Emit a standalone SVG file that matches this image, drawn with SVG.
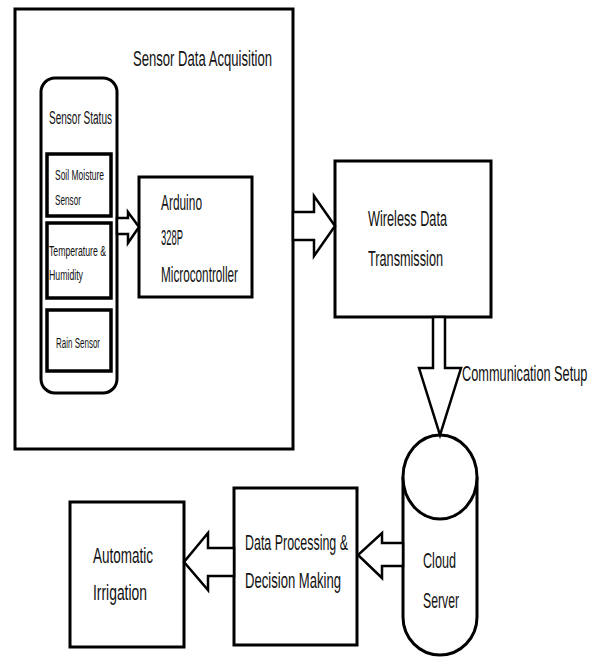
<svg xmlns="http://www.w3.org/2000/svg" width="600" height="657" viewBox="0 0 600 657">
<style>
.box{fill:#fff;stroke:#000;stroke-width:3}
.sbox{fill:#fff;stroke:#000;stroke-width:3.5}
.arr{fill:#fff;stroke:#000;stroke-width:2.5;stroke-linejoin:miter}
text{font-family:"Liberation Sans",Arial,sans-serif;fill:#111}
.big{font-size:22px}
.mid{font-size:18px}
.sm{font-size:14px}
</style>
<rect width="600" height="657" fill="#fff"/>
<g id="sensor-data-acquisition">
<rect class="box" x="15" y="9" width="278" height="440"/>
<text class="big" x="133" y="66" textLength="139" lengthAdjust="spacingAndGlyphs">Sensor Data Acquisition</text>
</g>
<g id="sensor-status">
<rect class="box" x="41" y="78" width="76" height="315" rx="14" ry="14"/>
<text class="mid" x="49" y="124" textLength="63" lengthAdjust="spacingAndGlyphs">Sensor Status</text>
</g>
<g id="soil-moisture">
<rect class="sbox" x="47" y="154" width="64" height="62"/>
<text class="sm" x="55" y="180" textLength="49" lengthAdjust="spacingAndGlyphs">Soil Moisture</text>
<text class="sm" x="55" y="205" textLength="26" lengthAdjust="spacingAndGlyphs">Sensor</text>
</g>
<g id="temperature-humidity">
<rect class="sbox" x="47" y="223" width="64" height="75"/>
<text class="sm" x="49" y="256" textLength="57" lengthAdjust="spacingAndGlyphs">Temperature &amp;</text>
<text class="sm" x="49" y="280" textLength="34" lengthAdjust="spacingAndGlyphs">Humidity</text>
</g>
<g id="rain-sensor">
<rect class="sbox" x="47" y="310" width="64" height="61"/>
<text class="sm" x="56" y="348" textLength="44" lengthAdjust="spacingAndGlyphs">Rain Sensor</text>
</g>
<g id="arduino">
<rect class="box" x="139" y="177" width="113" height="120"/>
<text class="big" x="161" y="210" textLength="41" lengthAdjust="spacingAndGlyphs">Arduino</text>
<text class="big" x="161" y="245" textLength="22" lengthAdjust="spacingAndGlyphs">328P</text>
<text class="big" x="161" y="282" textLength="77" lengthAdjust="spacingAndGlyphs">Microcontroller</text>
</g>
<g id="wireless">
<rect class="box" x="335" y="161" width="156" height="156"/>
<text class="big" x="368" y="226" textLength="79" lengthAdjust="spacingAndGlyphs">Wireless Data</text>
<text class="big" x="368" y="266" textLength="75" lengthAdjust="spacingAndGlyphs">Transmission</text>
</g>
<g id="cloud-server">
<path class="box" d="M403,477 L403,617 A37,38 0 0 0 477,617 L477,477"/>
<ellipse class="box" cx="440" cy="477" rx="37" ry="42"/>
<text class="big" x="423" y="568" textLength="33" lengthAdjust="spacingAndGlyphs">Cloud</text>
<text class="big" x="423" y="608" textLength="36" lengthAdjust="spacingAndGlyphs">Server</text>
</g>
<g id="data-processing">
<rect class="box" x="234" y="488" width="123" height="157"/>
<text class="big" x="245" y="550" textLength="103" lengthAdjust="spacingAndGlyphs">Data Processing &amp;</text>
<text class="big" x="245" y="588" textLength="96" lengthAdjust="spacingAndGlyphs">Decision Making</text>
</g>
<g id="automatic-irrigation">
<rect class="box" x="70" y="502" width="114" height="145"/>
<text class="big" x="93" y="563" textLength="60" lengthAdjust="spacingAndGlyphs">Automatic</text>
<text class="big" x="93" y="600" textLength="54" lengthAdjust="spacingAndGlyphs">Irrigation</text>
</g>
<g id="connectors">
<polygon class="arr" points="117,218 128,218 128,212 139,227 128,243 128,234 117,234"/>
<polygon class="arr" points="293,212 314,212 314,196 335,226 314,256 314,240 293,240"/>
<polygon class="arr" points="433,317 445,317 445,368 461,368 440,435 419,368 433,368"/>
<polygon class="arr" points="403,543 382,543 382,533 358,555 382,578 382,566 403,566"/>
<polygon class="arr" points="234,548 208,548 208,533 184,562 208,590 208,576 234,576"/>
<text class="big" transform="translate(462,381) scale(0.58,1)">Communication Setup</text>
</g>
</svg>
